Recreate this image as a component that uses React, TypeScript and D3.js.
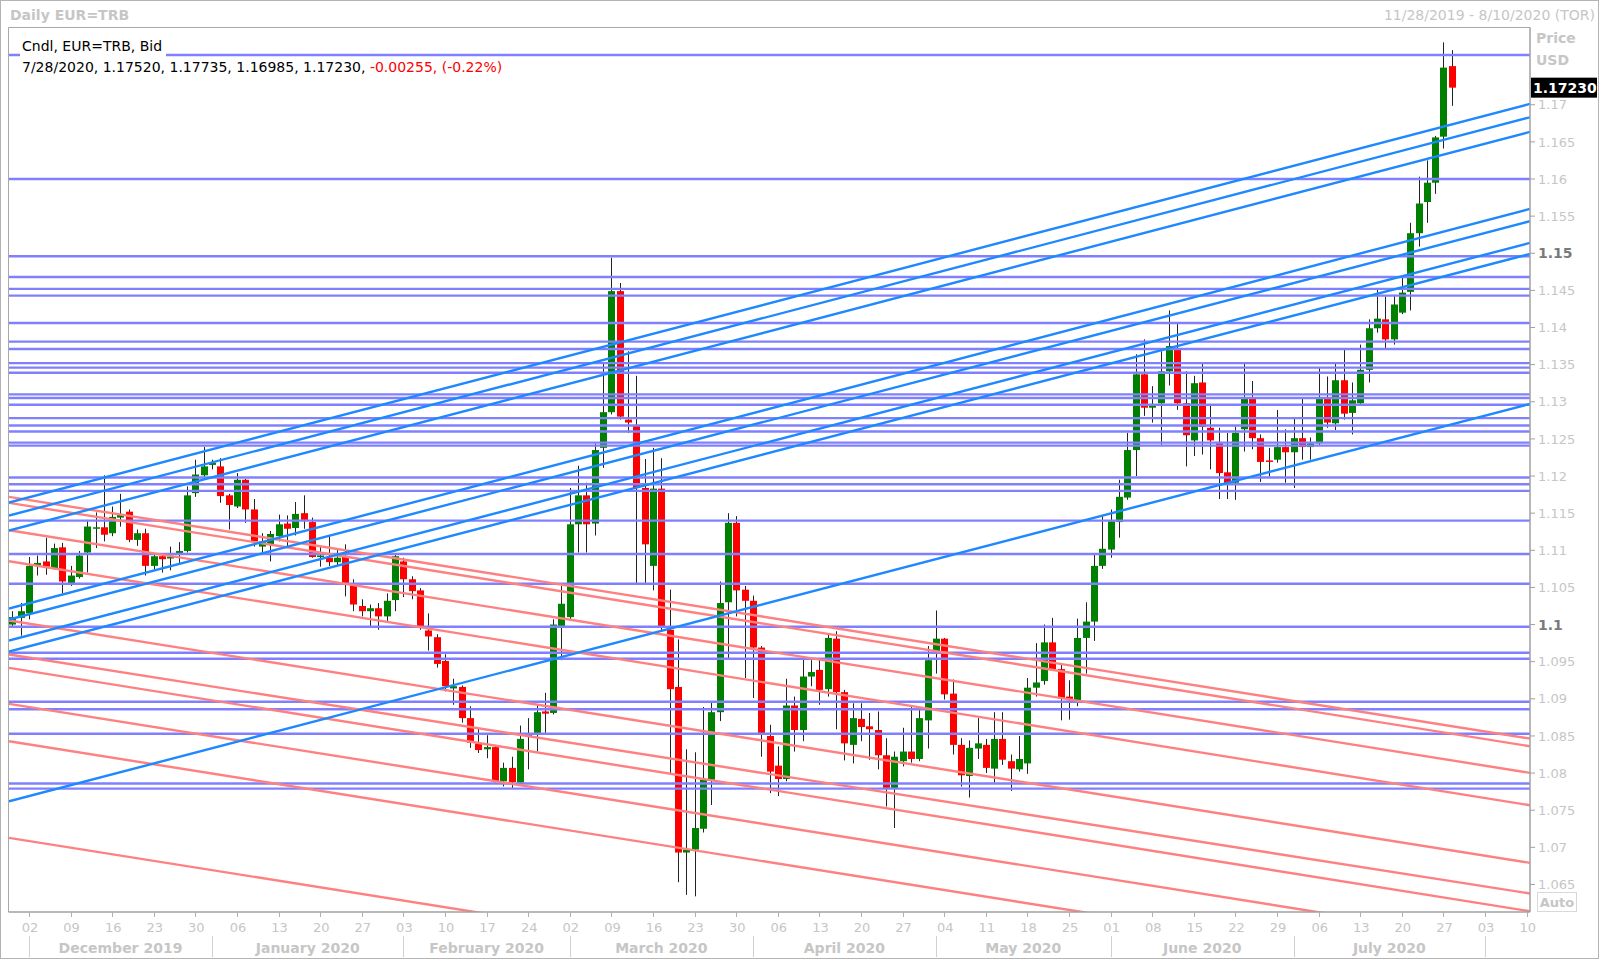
import React from "react";
import * as d3 from "d3";

// ---------- DATA ----------
const opens = [
  1.1000, 1.1009, 1.1015, 1.1080, 1.1085, 1.1076, 1.1104, 1.1056, 1.1064, 1.1097,
  1.1129, 1.1131, 1.1123, 1.1144, 1.1152, 1.1114, 1.1123, 1.1079, 1.1092, 1.1089,
  1.1096, 1.1099, 1.1177, 1.1201, 1.1215, 1.1213, 1.1174, 1.1159, 1.1195, 1.1155,
  1.1105, 1.1108, 1.1119, 1.1136, 1.1130, 1.1150, 1.1138, 1.1091, 1.1090, 1.1084,
  1.1092, 1.1055, 1.1025, 1.1018, 1.1022, 1.1011, 1.1033, 1.1085, 1.1061, 1.1046,
  1.0992, 1.0983, 1.0951, 1.0914, 1.0916, 1.0874, 1.0840, 1.0832, 1.0835, 1.0789,
  1.0807, 1.0787, 1.0850, 1.0854, 1.0883, 1.0881, 1.0998, 1.1010, 1.1135, 1.1174,
  1.1136, 1.1238, 1.1286, 1.1449, 1.1276, 1.1268, 1.1184, 1.1079, 1.1183, 1.0993,
  1.0916, 1.0693, 1.0697, 1.0725, 1.0791, 1.0882, 1.1030, 1.1137, 1.1047, 1.1032,
  1.0969, 1.0850, 1.0810, 1.0792, 1.0891, 1.0858, 1.0930, 1.0939, 1.0913, 1.0981,
  1.0909, 1.0838, 1.0873, 1.0863, 1.0858, 1.0824, 1.0780, 1.0816, 1.0829, 1.0819,
  1.0871, 1.0963, 1.0981, 1.0907, 1.0838, 1.0796, 1.0833, 1.0838, 1.0806, 1.0846,
  1.0816, 1.0805, 1.0813, 1.0915, 1.0924, 1.0976, 1.0940, 1.0903, 1.0898, 1.0982,
  1.1004, 1.1079, 1.1101, 1.1138, 1.1171, 1.1235, 1.1337, 1.1292, 1.1298, 1.1341,
  1.1371, 1.1298, 1.1248, 1.1326, 1.1265, 1.1244, 1.1205, 1.1191, 1.1263, 1.1305,
  1.1251, 1.1221, 1.1222, 1.1239, 1.1232, 1.1251, 1.1239, 1.1244, 1.1305, 1.1271,
  1.1329, 1.1285, 1.1298, 1.1343, 1.1399, 1.1411, 1.1384, 1.1420, 1.1448, 1.1527,
  1.1569, 1.1595, 1.1657, 1.1752,
];
const highs = [
  1.1018, 1.1029, 1.1091, 1.1093, 1.1117, 1.1109, 1.1110, 1.1079, 1.1099, 1.1141,
  1.1151, 1.1201, 1.1159, 1.1176, 1.1155, 1.1128, 1.1129, 1.1094, 1.1094, 1.1105,
  1.1111, 1.1186, 1.1222, 1.1239, 1.1222, 1.1224, 1.1176, 1.1204, 1.1196, 1.1169,
  1.1123, 1.1126, 1.1148, 1.1147, 1.1165, 1.1174, 1.1144, 1.1105, 1.1119, 1.1103,
  1.1108, 1.1061, 1.1034, 1.1027, 1.1029, 1.1042, 1.1096, 1.1090, 1.1065, 1.1049,
  1.1015, 1.0987, 1.0960, 1.0927, 1.0918, 1.0890, 1.0861, 1.0851, 1.0838, 1.0814,
  1.0822, 1.0864, 1.0874, 1.0892, 1.0908, 1.1007, 1.1052, 1.1184, 1.1214, 1.1191,
  1.1244, 1.1351, 1.1494, 1.1460, 1.1368, 1.1335, 1.1223, 1.1238, 1.1224, 1.1047,
  1.0980, 1.0832, 1.0828, 1.0889, 1.0895, 1.1058, 1.1150, 1.1146, 1.1052, 1.1039,
  1.0971, 1.0865, 1.0836, 1.0927, 1.0903, 1.0953, 1.0952, 1.0953, 1.0987, 1.0991,
  1.0912, 1.0894, 1.0894, 1.0881, 1.0883, 1.0847, 1.0829, 1.0861, 1.0889, 1.0886,
  1.0971, 1.1019, 1.0982, 1.0926, 1.0847, 1.0844, 1.0874, 1.0846, 1.0882, 1.0882,
  1.0825, 1.0850, 1.0928, 1.0975, 1.1000, 1.1009, 1.0946, 1.0925, 1.1008, 1.1030,
  1.1094, 1.1146, 1.1155, 1.1195, 1.1258, 1.1364, 1.1384, 1.1321, 1.1368, 1.1423,
  1.1406, 1.1341, 1.1335, 1.1353, 1.1295, 1.1265, 1.1258, 1.1267, 1.1352, 1.1328,
  1.1256, 1.1238, 1.1289, 1.1263, 1.1277, 1.1305, 1.1252, 1.1346, 1.1334, 1.1351,
  1.1371, 1.1326, 1.1377, 1.1411, 1.1452, 1.1442, 1.1444, 1.1468, 1.1541, 1.1603,
  1.1625, 1.1658, 1.1784, 1.17735,
];
const lows = [
  1.0998, 1.0985, 1.1007, 1.1066, 1.1067, 1.1074, 1.1042, 1.1052, 1.1062, 1.1070,
  1.1103, 1.1112, 1.1119, 1.1132, 1.1111, 1.1106, 1.1066, 1.1073, 1.1070, 1.1073,
  1.1083, 1.1097, 1.1172, 1.1198, 1.1209, 1.1164, 1.1128, 1.1157, 1.1137, 1.1105,
  1.1096, 1.1085, 1.1112, 1.1103, 1.1120, 1.1129, 1.1090, 1.1078, 1.1079, 1.1079,
  1.1038, 1.1018, 1.1011, 1.0998, 1.0993, 1.1004, 1.1018, 1.1037, 1.1034, 1.0993,
  1.0965, 1.0942, 1.0910, 1.0892, 1.0868, 1.0834, 1.0827, 1.0820, 1.0787, 1.0782,
  1.0780, 1.0785, 1.0805, 1.0829, 1.0854, 1.0879, 1.0952, 1.1007, 1.1097, 1.1097,
  1.1120, 1.1211, 1.1283, 1.1276, 1.1258, 1.1056, 1.1056, 1.1046, 1.0991, 1.0799,
  1.0653, 1.0636, 1.0634, 1.0720, 1.0757, 1.0870, 1.0955, 1.1011, 1.0928, 1.0901,
  1.0822, 1.0773, 1.0769, 1.0789, 1.0829, 1.0843, 1.0917, 1.0892, 1.0903, 1.0859,
  1.0817, 1.0813, 1.0843, 1.0818, 1.0805, 1.0755, 1.0726, 1.0809, 1.0814, 1.0816,
  1.0833, 1.0934, 1.0899, 1.0825, 1.0782, 1.0767, 1.0819, 1.0800, 1.0787, 1.0811,
  1.0776, 1.0802, 1.0799, 1.0903, 1.0919, 1.0939, 1.0871, 1.0872, 1.0890, 1.0934,
  1.0978, 1.1075, 1.1090, 1.1117, 1.1168, 1.1200, 1.1281, 1.1272, 1.1242, 1.1322,
  1.1289, 1.1213, 1.1227, 1.1229, 1.1209, 1.1169, 1.1169, 1.1168, 1.1233, 1.1236,
  1.1192, 1.1199, 1.1218, 1.1191, 1.1184, 1.1222, 1.1222, 1.1242, 1.1265, 1.1262,
  1.1276, 1.1256, 1.1296, 1.1326, 1.1393, 1.1372, 1.1377, 1.1418, 1.1423, 1.1509,
  1.1541, 1.1580, 1.1641, 1.16985,
];
const closes = [
  1.1010, 1.1018, 1.1079, 1.1083, 1.1078, 1.1103, 1.1058, 1.1066, 1.1093, 1.1132,
  1.1131, 1.1121, 1.1145, 1.1149, 1.1114, 1.1123, 1.1079, 1.1092, 1.1088, 1.1091,
  1.1099, 1.1174, 1.1202, 1.1213, 1.1218, 1.1173, 1.1161, 1.1195, 1.1155, 1.1112,
  1.1112, 1.1122, 1.1135, 1.1129, 1.1149, 1.1141, 1.1091, 1.1093, 1.1084, 1.1090,
  1.1056, 1.1027, 1.1018, 1.1022, 1.1011, 1.1032, 1.1092, 1.1061, 1.1045, 1.0997,
  1.0984, 1.0947, 1.0917, 1.0917, 1.0874, 1.0841, 1.0831, 1.0835, 1.0789, 1.0807,
  1.0788, 1.0846, 1.0852, 1.0882, 1.0880, 1.1000, 1.1028, 1.1135, 1.1174, 1.1135,
  1.1235, 1.1286, 1.1449, 1.1280, 1.1272, 1.1184, 1.1108, 1.1183, 1.0998, 1.0913,
  1.0693, 1.0697, 1.0726, 1.0791, 1.0882, 1.1029, 1.1137, 1.1046, 1.1032, 1.0969,
  1.0854, 1.0802, 1.0792, 1.0891, 1.0858, 1.0930, 1.0936, 1.0912, 1.0982, 1.0909,
  1.0840, 1.0874, 1.0862, 1.0859, 1.0824, 1.0780, 1.0822, 1.0829, 1.0819, 1.0874,
  1.0952, 1.0981, 1.0906, 1.0838, 1.0797, 1.0834, 1.0840, 1.0807, 1.0846, 1.0818,
  1.0806, 1.0819, 1.0915, 1.0922, 1.0976, 1.0940, 1.0900, 1.0898, 1.0982, 1.1004,
  1.1079, 1.1102, 1.1139, 1.1172, 1.1235, 1.1337, 1.1292, 1.1295, 1.1341, 1.1375,
  1.1298, 1.1255, 1.1325, 1.1266, 1.1248, 1.1204, 1.1190, 1.1258, 1.1305, 1.1251,
  1.1219, 1.1219, 1.1239, 1.1232, 1.1251, 1.1239, 1.1244, 1.1305, 1.1272, 1.1329,
  1.1284, 1.1302, 1.1343, 1.1399, 1.1412, 1.1384, 1.1431, 1.1447, 1.1527, 1.1567,
  1.1595, 1.1656, 1.1750, 1.1723,
];

// horizontal support/resistance levels
const levelLines = [
  1.1767, 1.1600, 1.1496, 1.1468, 1.1452, 1.1443, 1.1406, 1.1381, 1.1371, 1.1352,
  1.1346, 1.1339, 1.1310, 1.1305, 1.1296, 1.1278, 1.1268, 1.1260, 1.1245, 1.1241,
  1.1198, 1.1189, 1.1180, 1.1140, 1.1095, 1.1055, 1.0997, 1.0962, 1.0954, 1.0896,
  1.0886, 1.0853, 1.0786, 1.0779,
];

// rising trend lines: price at left edge / right edge of the plot
const risingStart = [1.11643, 1.11468, 1.11266, 1.10215, 1.10067, 1.09785, 1.09636, 1.07620];
const risingEnd = [1.17012, 1.16831, 1.16635, 1.15598, 1.15431, 1.15140, 1.14992, 1.12972];

// falling trend lines: price at left edge / right edge of the plot
const fallingStart = [1.11720, 1.11639, 1.11270, 1.10852, 1.10054, 1.09596, 1.09417, 1.08932, 1.08429, 1.07128];
const fallingEnd = [1.08465, 1.08361, 1.08003, 1.07567, 1.06791, 1.06378, 1.06139, 1.05673, 1.05170, 1.03869];

const priceTicks = [
  1.065, 1.07, 1.075, 1.08, 1.085, 1.09, 1.095, 1.1, 1.105, 1.11, 1.115, 1.12,
  1.125, 1.13, 1.135, 1.14, 1.145, 1.15, 1.155, 1.16, 1.165, 1.17,
];
const boldTicks = [1.1, 1.15];
const monthNames = [
  "December 2019", "January 2020", "February 2020", "March 2020", "April 2020",
  "May 2020", "June 2020", "July 2020", "",
];

const lastBar = { date: "7/28/2020", o: "1.17520", h: "1.17735", l: "1.16985", c: "1.17230", chg: "-0.00255", pct: "(-0.22%)" };

// ---------- LAYOUT ----------
const W = 1600;
const H = 960;
const PL = 9, PR = 1530, PT = 28, PB = 912;
const FONT = "DejaVu Sans, Verdana, sans-serif";
const GRAY = "#c6c6c6";

// trading-day calendar (weekdays from 28 Nov 2019 to 10 Aug 2020)
const days: Date[] = [];
{
  const d = new Date(2019, 10, 28);
  while (days.length < 183) {
    const wd = d.getDay();
    if (wd !== 0 && wd !== 6) days.push(new Date(d));
    d.setDate(d.getDate() + 1);
  }
}

export default function App() {
  const x = d3.scaleLinear().domain([-0.4, 182.4]).range([PL, PR]);
  const y = d3.scaleLinear().domain([1.061427, 1.180401]).range([911, 27.5]);

  const mondays = days.map((d, i) => ({ d, i })).filter((o) => o.d.getDay() === 1);
  const monthStarts: number[] = [];
  days.forEach((d, i) => {
    if (i > 0 && d.getMonth() !== days[i - 1].getMonth()) monthStarts.push(i);
  });
  const fmtDay = d3.timeFormat("%d");
  const lineGen = d3.line<[number, number]>().x((p) => x(p[0])).y((p) => y(p[1]));
  const [d0, d1] = x.domain();

  const candles = opens.map((o, i) => ({ i, o, h: highs[i], l: lows[i], c: closes[i] }));
  const lastY = y(closes[closes.length - 1]);

  return (
    <svg width={W} height={H} style={{ position: "absolute", left: 0, top: 0, background: "#fff" }} fontFamily={FONT}>
      <defs>
        <clipPath id="plotClip">
          <rect x={PL} y={PT} width={PR - PL} height={PB - PT} />
        </clipPath>
      </defs>
      <rect x={0} y={0} width={W} height={H} fill="#fff" />
      <rect x={0.5} y={0.5} width={W - 2} height={H - 2} fill="none" stroke="#b4b4b4" />

      {/* header */}
      <text x={10} y={20} fontSize={14} fontWeight="bold" fill={GRAY}>Daily EUR=TRB</text>
      <text x={1595} y={20} fontSize={14} fill={GRAY} textAnchor="end">11/28/2019 - 8/10/2020 (TOR)</text>

      {/* plot frame */}
      <line x1={8.5} x2={PR} y1={PT - 0.5} y2={PT - 0.5} stroke="#a8a8a8" />
      <line x1={8.5} x2={8.5} y1={PT - 0.5} y2={PB} stroke="#a8a8a8" />

      <g clipPath="url(#plotClip)">
        {/* candles */}
        {candles.map((k) => {
          const cx = Math.round(x(k.i)) + 0.5;
          const up = k.c >= k.o;
          const top = y(Math.max(k.o, k.c));
          const bot = y(Math.min(k.o, k.c));
          return (
            <g key={k.i}>
              <line x1={cx} x2={cx} y1={y(k.h)} y2={y(k.l)} stroke="#222" strokeWidth={1} />
              <rect x={cx - 3.5} y={top} width={7} height={Math.max(1.5, bot - top)} fill={up ? "#008000" : "#ff0000"} />
            </g>
          );
        })}
        {/* horizontal levels */}
        {levelLines.map((p, j) => (
          <line key={"h" + j} x1={PL} x2={PR} y1={y(p)} y2={y(p)} stroke="#8080ff" strokeWidth={2.4} />
        ))}
        {/* falling lines */}
        {fallingStart.map((p, j) => (
          <path key={"f" + j} d={lineGen([[d0, p], [d1, fallingEnd[j]]]) || ""} stroke="#ff8080" strokeWidth={2.4} fill="none" />
        ))}
        {/* rising lines */}
        {risingStart.map((p, j) => (
          <path key={"r" + j} d={lineGen([[d0, p], [d1, risingEnd[j]]]) || ""} stroke="#1e88ff" strokeWidth={2.4} fill="none" />
        ))}
      </g>

      {/* legend text */}
      <rect x={20} y={37} width={146} height={20} fill="#fff" />
      <text x={22} y={51} fontSize={14} fill="#000">Cndl, EUR=TRB, Bid</text>
      <text x={22} y={72} fontSize={14} fill="#000">
        {`${lastBar.date}, ${lastBar.o}, ${lastBar.h}, ${lastBar.l}, ${lastBar.c}, `}
        <tspan fill="#ff0000">{`${lastBar.chg}, ${lastBar.pct}`}</tspan>
      </text>

      {/* right axis */}
      <line x1={PR} x2={PR} y1={PT - 0.5} y2={PB} stroke="#a0a0a0" strokeWidth={1.5} />
      {priceTicks.map((p) => {
        const bold = boldTicks.some((b) => Math.abs(b - p) < 1e-9);
        return (
          <g key={"t" + p}>
            <line x1={PR} x2={PR + 5} y1={y(p)} y2={y(p)} stroke="#a0a0a0" />
            <text x={1538} y={y(p)} dy="0.36em" fontSize={bold ? 14 : 13} fontWeight={bold ? "bold" : "normal"} fill={bold ? "#7a7a7a" : GRAY}>
              {String(+p.toFixed(3))}
            </text>
          </g>
        );
      })}
      <text x={1536} y={43} fontSize={14} fontWeight="bold" fill={GRAY}>Price</text>
      <text x={1536} y={65} fontSize={14} fontWeight="bold" fill={GRAY}>USD</text>
      <rect x={1531} y={lastY - 10} width={66} height={20} fill="#000" />
      <text x={1533} y={lastY} dy="0.36em" fontSize={14} fontWeight="bold" fill="#fff">{lastBar.c}</text>
      <rect x={1537.5} y={892.5} width={39} height={19} fill="#fff" stroke="#d8d8d8" />
      <text x={1557} y={902} dy="0.36em" fontSize={13} fontWeight="bold" fill={GRAY} textAnchor="middle">Auto</text>

      {/* bottom axis */}
      <line x1={8.5} x2={PR} y1={PB} y2={PB} stroke="#a0a0a0" strokeWidth={1.5} />
      {mondays.map(({ d, i }) => (
        <g key={"m" + i}>
          <line x1={Math.round(x(i)) + 0.5} x2={Math.round(x(i)) + 0.5} y1={PB} y2={PB + 5} stroke="#b0b0b0" />
          <text x={x(i) + 1} y={932} fontSize={13} fill={GRAY} textAnchor="middle">{fmtDay(d)}</text>
        </g>
      ))}
      {monthStarts.map((i, j, arr) => {
        const xs = Math.round(x(i)) + 0.5;
        const next = arr[j + 1];
        return (
          <g key={"ms" + i}>
            <line x1={xs} x2={xs} y1={936} y2={957} stroke="#d0d0d0" />
            {next !== undefined && monthNames[j] ? (
              <text x={(x(i) + x(next)) / 2} y={953} fontSize={14} fontWeight="bold" fill={GRAY} textAnchor="middle">
                {monthNames[j]}
              </text>
            ) : null}
          </g>
        );
      })}
    </svg>
  );
}
